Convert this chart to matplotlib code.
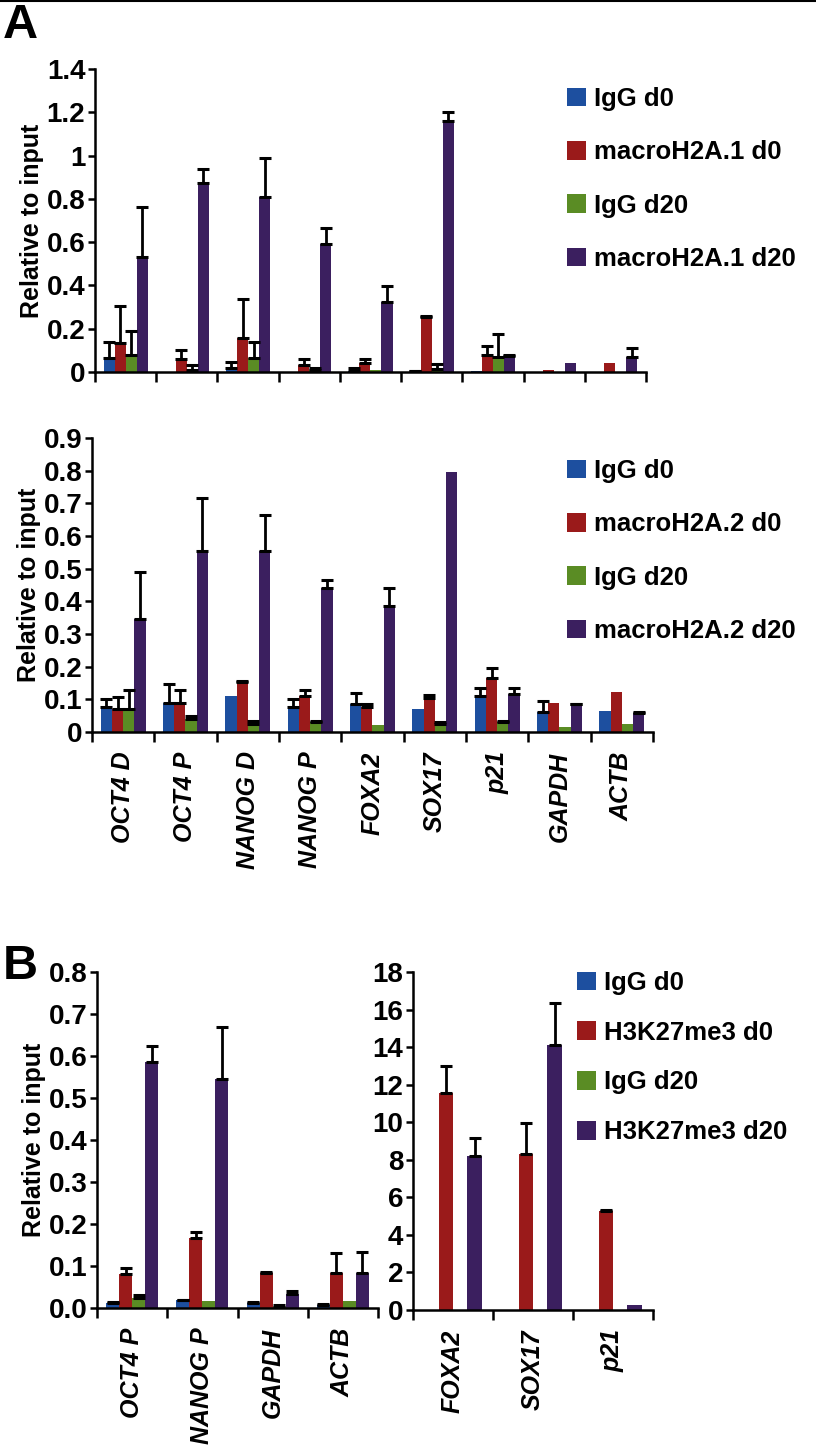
import numpy as np
import matplotlib
matplotlib.use("Agg")
import matplotlib.pyplot as plt
from matplotlib.patches import Patch

plt.rcParams["font.family"] = ["Liberation Sans", "DejaVu Sans"]
plt.rcParams["font.weight"] = "bold"

colors = ["#1d4f9f", "#9a1a1a", "#5a8c24", "#3b1f5f"]

# Panel A (top): macroH2A.1
genes_a = ["OCT4 D", "OCT4 P", "NANOG D", "NANOG P", "FOXA2", "SOX17", "p21", "GAPDH", "ACTB"]
labels_a1 = ["IgG d0", "macroH2A.1 d0", "IgG d20", "macroH2A.1 d20"]
igg_d0_a1 = [0.065, 0.0, 0.02, 0.0, 0.005, 0.004, 0.005, 0.0, 0.0]
igg_d0_a1_sd = [0.075, 0.0, 0.025, 0.0, 0.012, 0.002, 0.0, 0.0, 0.0]
mh2a1_d0 = [0.135, 0.06, 0.155, 0.03, 0.04, 0.255, 0.08, 0.01, 0.04]
mh2a1_d0_sd = [0.17, 0.04, 0.18, 0.03, 0.02, 0.005, 0.04, 0.0, 0.0]
igg_d20_a1 = [0.08, 0.01, 0.065, 0.01, 0.01, 0.015, 0.07, 0.0, 0.0]
igg_d20_a1_sd = [0.11, 0.02, 0.075, 0.01, 0.0, 0.02, 0.105, 0.0, 0.0]
mh2a1_d20 = [0.53, 0.875, 0.81, 0.59, 0.325, 1.16, 0.075, 0.04, 0.07]
mh2a1_d20_sd = [0.23, 0.065, 0.18, 0.075, 0.07, 0.04, 0.005, 0.0, 0.04]

# Panel A (bottom): macroH2A.2
labels_a2 = ["IgG d0", "macroH2A.2 d0", "IgG d20", "macroH2A.2 d20"]
igg_d0_a2 = [0.077, 0.09, 0.11, 0.077, 0.085, 0.07, 0.11, 0.062, 0.065]
igg_d0_a2_sd = [0.023, 0.058, 0.0, 0.023, 0.035, 0.0, 0.025, 0.033, 0.0]
mh2a2_d0 = [0.07, 0.09, 0.153, 0.11, 0.077, 0.103, 0.165, 0.09, 0.123]
mh2a2_d0_sd = [0.037, 0.037, 0.002, 0.017, 0.01, 0.01, 0.03, 0.0, 0.0]
igg_d20_a2 = [0.07, 0.04, 0.023, 0.03, 0.022, 0.025, 0.03, 0.015, 0.025]
igg_d20_a2_sd = [0.058, 0.008, 0.01, 0.005, 0.0, 0.005, 0.005, 0.0, 0.0]
mh2a2_d20 = [0.345, 0.553, 0.553, 0.44, 0.385, 0.796, 0.115, 0.085, 0.058]
mh2a2_d20_sd = [0.145, 0.163, 0.11, 0.025, 0.057, 0.0, 0.02, 0.002, 0.002]

# Panel B: H3K27me3
labels_b = ["IgG d0", "H3K27me3 d0", "IgG d20", "H3K27me3 d20"]
genes_b1 = ["OCT4 P", "NANOG P", "GAPDH", "ACTB"]
igg_d0_b1 = [0.012, 0.018, 0.012, 0.008]
igg_d0_b1_sd = [0.003, 0.002, 0.003, 0.002]
h3k_d0_b1 = [0.08, 0.166, 0.083, 0.083]
h3k_d0_b1_sd = [0.015, 0.016, 0.002, 0.047]
igg_d20_b1 = [0.024, 0.017, 0.003, 0.017]
igg_d20_b1_sd = [0.006, 0.0, 0.005, 0.0]
h3k_d20_b1 = [0.585, 0.545, 0.033, 0.083]
h3k_d20_b1_sd = [0.04, 0.123, 0.007, 0.05]

genes_b2 = ["FOXA2", "SOX17", "p21"]
igg_d0_b2 = [0.0, 0.0, 0.0]
igg_d0_b2_sd = [0.0, 0.0, 0.0]
h3k_d0_b2 = [11.55, 8.3, 5.25]
h3k_d0_b2_sd = [1.45, 1.65, 0.05]
igg_d20_b2 = [0.0, 0.0, 0.0]
igg_d20_b2_sd = [0.0, 0.0, 0.0]
h3k_d20_b2 = [8.2, 14.1, 0.25]
h3k_d20_b2_sd = [0.95, 2.25, 0.0]


def draw_bars(ax, genes, series, sds, width, ylim, yticks, yticklabels):
    n = len(genes)
    x = np.arange(n)
    for i, (vals, sd) in enumerate(zip(series, sds)):
        pos = x + (i - 1.5) * width
        ax.bar(pos, vals, width, color=colors[i], edgecolor="none", zorder=2)
        vals = np.array(vals)
        sd = np.array(sd)
        m = sd > 0
        if m.any():
            ax.errorbar(pos[m], vals[m], yerr=[np.zeros(m.sum()), sd[m]], fmt="none",
                        ecolor="black", elinewidth=2, capsize=4.5, capthick=2.2, zorder=3)
    ax.set_xlim(-0.5, n - 0.5)
    ax.set_ylim(*ylim)
    ax.set_yticks(yticks)
    ax.set_yticklabels(yticklabels, fontweight="bold")
    # boundary ticks (major, no labels), gene labels on minor ticks
    ax.set_xticks(np.arange(n + 1) - 0.5)
    ax.set_xticklabels([])
    ax.set_xticks(x, minor=True)
    ax.set_xticklabels(genes, minor=True, rotation=90, fontsize=18, fontstyle="italic",
                       fontweight="bold")
    ax.tick_params(axis="x", which="major", length=7, width=1.8, direction="out")
    ax.tick_params(axis="x", which="minor", length=0, pad=14)
    ax.tick_params(axis="y", length=5, width=1.8, labelsize=20, pad=2)
    for s in ["top", "right"]:
        ax.spines[s].set_visible(False)
    for s in ["left", "bottom"]:
        ax.spines[s].set_linewidth(1.8)
    ax.margins(x=0)


def add_legend(fig, labels, x, y, spacing):
    handles = [Patch(facecolor=c, edgecolor="none") for c in colors]
    fig.legend(handles, labels, loc="upper left", bbox_to_anchor=(x, y), frameon=False,
               prop={"size": 18.5, "weight": "bold"}, handlelength=0.75, handleheight=0.75,
               handletextpad=0.3, labelspacing=spacing, borderpad=0, borderaxespad=0)


fig = plt.figure(figsize=(8.16, 14.48), dpi=100)

ax1 = fig.add_axes([0.1164, 0.7431, 0.6752, 0.2093])
draw_bars(ax1, genes_a, [igg_d0_a1, mh2a1_d0, igg_d20_a1, mh2a1_d20],
          [igg_d0_a1_sd, mh2a1_d0_sd, igg_d20_a1_sd, mh2a1_d20_sd], 0.18,
          (0, 1.4), [0, 0.2, 0.4, 0.6, 0.8, 1.0, 1.2, 1.4],
          ["0", "0.2", "0.4", "0.6", "0.8", "1", "1.2", "1.4"])
ax1.set_xticklabels([], minor=True)
ax1.set_ylabel("Relative to input", fontsize=18, fontweight="bold", labelpad=2)

ax2 = fig.add_axes([0.1127, 0.4945, 0.6875, 0.2030])
draw_bars(ax2, genes_a, [igg_d0_a2, mh2a2_d0, igg_d20_a2, mh2a2_d20],
          [igg_d0_a2_sd, mh2a2_d0_sd, igg_d20_a2_sd, mh2a2_d20_sd], 0.18,
          (0, 0.9), np.arange(0, 0.91, 0.1),
          ["0"] + ["%.1f" % v for v in np.arange(0.1, 0.91, 0.1)])
ax2.set_ylabel("Relative to input", fontsize=18, fontweight="bold", labelpad=2)

ax3 = fig.add_axes([0.1189, 0.0967, 0.3444, 0.2320])
draw_bars(ax3, genes_b1, [igg_d0_b1, h3k_d0_b1, igg_d20_b1, h3k_d20_b1],
          [igg_d0_b1_sd, h3k_d0_b1_sd, igg_d20_b1_sd, h3k_d20_b1_sd], 0.185,
          (0, 0.8), np.arange(0, 0.81, 0.1), ["%.1f" % v for v in np.arange(0, 0.81, 0.1)])
ax3.set_ylabel("Relative to input", fontsize=18, fontweight="bold", labelpad=2)

ax4 = fig.add_axes([0.5061, 0.0953, 0.2941, 0.2334])
draw_bars(ax4, genes_b2, [igg_d0_b2, h3k_d0_b2, igg_d20_b2, h3k_d20_b2],
          [igg_d0_b2_sd, h3k_d0_b2_sd, igg_d20_b2_sd, h3k_d20_b2_sd], 0.18,
          (0, 18), np.arange(0, 19, 2), [str(v) for v in range(0, 19, 2)])

add_legend(fig, labels_a1, 567 / 816, 1 - 87 / 1448, 1.14)
add_legend(fig, labels_a2, 567 / 816, 1 - 459 / 1448, 1.14)
add_legend(fig, labels_b, 577 / 816, 1 - 971 / 1448, 1.0)

fig.text(0.003, 0.998, "A", fontsize=35, fontweight="bold", va="top", ha="left")
fig.text(0.003, 0.348, "B", fontsize=35, fontweight="bold", va="top", ha="left")
fig.add_artist(plt.Line2D([0, 1], [0.9995, 0.9995], color="black", lw=1.5))

fig.savefig("out.png", dpi=100)
